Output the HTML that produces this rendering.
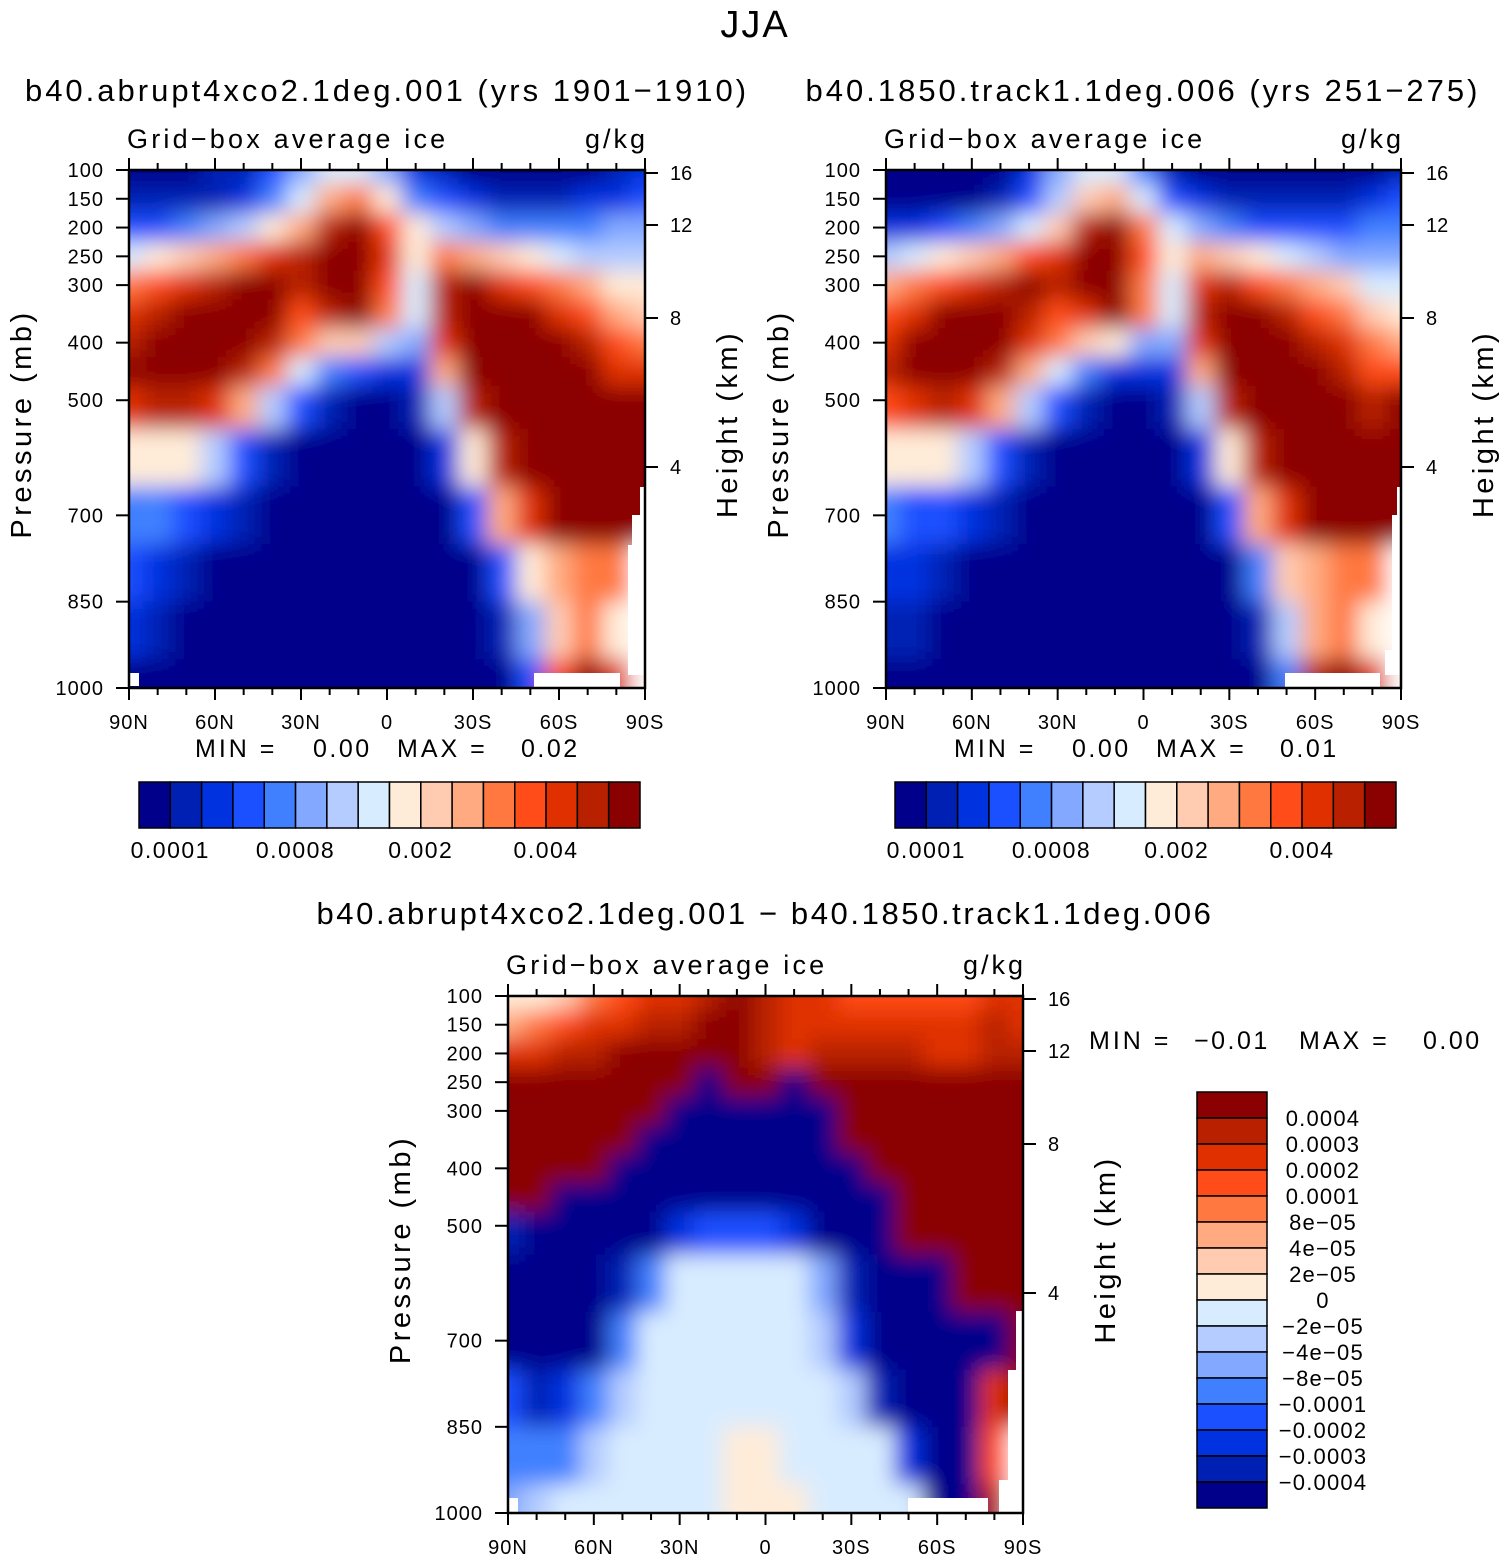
<!DOCTYPE html>
<html><head><meta charset="utf-8"><style>
html,body{margin:0;padding:0;background:#fff}
svg{display:block;font-family:"Liberation Sans",sans-serif}
</style></head><body>
<svg id="fig" width="1504" height="1561" viewBox="0 0 1504 1561" xmlns="http://www.w3.org/2000/svg">
<defs>
<filter id="smooth" x="-5%" y="-5%" width="110%" height="110%"><feGaussianBlur stdDeviation="11" edgeMode="duplicate"/></filter>
<clipPath id="clip1"><rect x="129" y="170" width="516" height="518"/></clipPath>
<clipPath id="clip2"><rect x="886" y="170" width="515" height="518"/></clipPath>
<clipPath id="clip3"><rect x="508" y="996" width="515" height="517"/></clipPath>
</defs>
<text x="755" y="37" font-size="38" text-anchor="middle" letter-spacing="2">JJA</text>
</svg>
<script>
const lats=[90,80,70,60,50,40,30,20,10,0,-10,-20,-30,-40,-50,-60,-70,-80,-90];
const pressures=[100,150,200,250,300,350,400,450,500,600,700,800,900,1000];
const pressureTicks=[100,150,200,250,300,400,500,700,850,1000];
const heightTicks=[16,12,8,4];
const heightTickOffsets=[3,55,148,297];
const latTickLabels=["90N","60N","30N","0","30S","60S","90S"];
const colors=["#00008b","#0020b4","#0032e0","#1a50ff","#4080ff","#82a8ff","#b4ccff","#d8ecff","#ffecd8","#ffccb2","#ffaa80","#ff7840","#ff4c18","#e03000","#b82000","#8b0000"];
const absLabels=["0.0001","0.0008","0.002","0.004"];
const absLabelIdx=[1,5,9,13];
const diffLabels=["0.0004","0.0003","0.0002","0.0001","8e−05","4e−05","2e−05","0","−2e−05","−4e−05","−8e−05","−0.0001","−0.0002","−0.0003","−0.0004"];
// contour level index (0..15), -1 = missing
const panel1Levels=[
[0,0,0,1,1,3,5,7,7,5,2,1,0,0,0,0,0,1,2],
[1,1,1,1,2,4,7,10,11,8,4,3,2,1,1,1,2,2,3],
[3,3,4,5,6,8,10,14,15,12,8,6,5,4,4,4,4,5,5],
[7,8,9,10,11,13,14,15,15,13,8,11,10,9,8,7,6,6,6],
[11,12,13,14,15,15,14,15,15,12,7,14,15,13,12,11,10,8,8],
[13,14,15,15,15,15,12,14,15,11,7,14,15,15,15,13,12,10,9],
[14,15,15,15,15,14,11,9,9,6,5,13,15,15,15,15,14,12,11],
[15,15,15,15,14,11,7,4,3,2,2,10,15,15,15,15,15,13,13],
[13,14,14,13,10,6,3,1,0,0,1,6,14,15,15,15,15,15,15],
[8,8,8,6,3,1,0,0,0,0,0,2,8,14,15,15,15,15,15],
[4,4,3,2,1,0,0,0,0,0,0,0,3,10,13,15,15,15,15],
[3,2,1,0,0,0,0,0,0,0,0,0,0,3,8,10,11,11,-1],
[2,1,0,0,0,0,0,0,0,0,0,0,0,1,5,9,11,8,-1],
[0,0,0,0,0,0,0,0,0,0,0,0,0,0,3,12,15,13,-1]];
const panel2Levels=[
[0,0,0,0,0,2,5,7,7,4,1,0,0,0,0,0,0,0,1],
[0,0,0,0,1,3,6,9,10,7,3,2,1,1,1,1,1,2,3],
[2,2,3,4,5,7,9,14,15,11,7,5,4,3,3,3,3,4,4],
[6,7,8,9,10,12,13,15,15,12,8,10,9,8,7,6,5,5,5],
[10,11,12,13,14,15,14,15,15,11,7,13,14,12,11,10,9,7,7],
[12,13,15,15,15,14,12,13,15,11,7,14,15,15,14,12,11,9,8],
[13,15,15,15,15,13,11,9,8,5,5,13,15,15,15,14,13,11,10],
[14,15,15,15,14,10,7,4,2,2,2,10,15,15,15,15,14,12,12],
[12,13,14,13,10,6,3,1,0,0,1,6,14,15,15,15,15,14,15],
[8,8,8,6,3,1,0,0,0,0,0,2,8,14,15,15,15,15,15],
[4,3,3,2,1,0,0,0,0,0,0,0,3,10,13,15,15,15,15],
[2,2,1,0,0,0,0,0,0,0,0,0,0,4,9,10,11,11,-1],
[1,1,0,0,0,0,0,0,0,0,0,0,0,1,6,10,11,8,-1],
[0,0,0,0,0,0,0,0,0,0,0,0,0,0,4,14,15,13,-1]];
const diffLevels=[
[8,8,9,11,12,13,13,14,15,14,13,13,12,12,12,12,12,13,13],
[10,11,12,13,13,14,14,15,15,14,13,13,13,13,13,13,13,14,13],
[13,13,14,14,15,15,15,15,15,14,13,14,14,14,14,13,13,14,14],
[15,15,15,15,15,15,15,0,15,15,0,15,15,15,15,15,15,15,15],
[15,15,15,15,15,15,0,0,0,0,0,0,15,15,15,15,15,15,15],
[15,15,15,15,15,0,0,0,0,0,0,0,15,15,15,15,15,15,15],
[15,15,15,15,0,0,0,0,0,0,0,0,0,15,15,15,15,15,15],
[15,15,0,0,0,0,0,0,0,0,0,0,0,0,15,15,15,15,15],
[1,0,0,0,0,0,2,3,3,3,2,0,0,0,15,15,15,15,15],
[0,0,0,0,1,4,7,7,7,7,7,5,1,0,0,0,15,15,15],
[0,0,0,0,4,7,7,7,7,7,7,6,2,0,0,0,0,0,15],
[3,1,2,4,6,7,7,7,7,7,7,7,6,1,0,0,0,13,15],
[4,4,4,6,7,7,7,7,8,8,7,7,7,7,2,0,0,12,-1],
[5,6,7,7,7,7,7,7,8,8,8,7,7,7,7,0,0,14,-1]];

const NS="http://www.w3.org/2000/svg";
const svg=document.getElementById('fig');
function mk(tag,attrs,parent,text){const e=document.createElementNS(NS,tag);for(const k in attrs)e.setAttribute(k,attrs[k]);if(text!==undefined)e.textContent=text;(parent||svg).appendChild(e);return e;}

function panel(P){
  const {x0,y0,w,h,levels,clip,id}=P;
  const xs=lat=>x0+(90-lat)/180*w;
  const ys=p=>y0+(p-100)/900*h;
  const grp=mk('g',{'clip-path':'url(#'+clip+')'});
  
  
  const fg=mk('g',{filter:'url(#smooth)'},grp);
  for(let j=0;j<pressures.length;j++){
    const pt=j===0?pressures[0]-60:(pressures[j-1]+pressures[j])/2;
    const pb=j===pressures.length-1?pressures[j]+60:(pressures[j]+pressures[j+1])/2;
    for(let i=0;i<lats.length;i++){
      const v=levels[j][i];
      const la=i===0?lats[i]+25:lats[i]+5, lb=i===lats.length-1?lats[i]-25:lats[i]-5;
      const c=mk('rect',{x:xs(la),y:ys(pt),width:xs(lb)-xs(la)+0.5,height:ys(pb)-ys(pt)+0.5,fill:v<0?'#ffffff':colors[Math.max(0,Math.min(15,v))]},fg);
      
      
    }
  }
  (P.masks||[]).forEach(m=>{const r=mk('rect',{x:m[0],y:m[1],width:m[2],height:m[3],fill:'#fff'},grp);
    
    });
  const fr=mk('rect',{x:x0,y:y0,width:w,height:h,fill:'none',stroke:'#000','stroke-width':2.5});
  
  
  for(let lat=90;lat>=-90;lat-=10){
    const x=xs(lat), major=lat%30===0;
    const L=major?12:7;
    mk('line',{x1:x,x2:x,y1:y0+h,y2:y0+h+L,stroke:'#000','stroke-width':2});
    mk('line',{x1:x,x2:x,y1:y0,y2:y0-L,stroke:'#000','stroke-width':2});
  }
  latTickLabels.forEach((t,k)=>{
    const e=mk('text',{x:xs(90-30*k),y:y0+h+41,'font-size':20,'text-anchor':'middle','letter-spacing':1},svg,t);
    
    
  });
  pressureTicks.forEach(p=>{
    const y=ys(p);
    mk('line',{x1:x0-13,x2:x0,y1:y,y2:y,stroke:'#000','stroke-width':2});
    const e=mk('text',{x:x0-25,y:y+7,'font-size':20,'text-anchor':'end','letter-spacing':1},svg,p);
    
    
  });
  heightTicks.forEach((hv,k)=>{
    const y=y0+heightTickOffsets[k];
    mk('line',{x1:x0+w,x2:x0+w+13,y1:y,y2:y,stroke:'#000','stroke-width':2});
    const e=mk('text',{x:x0+w+25,y:y+7,'font-size':20},svg,hv);
    
    
  });
  let e=mk('text',{x:x0-2,y:y0-22,'font-size':27,'letter-spacing':3.2},svg,'Grid−box average ice');
  
  
  e=mk('text',{x:x0+w+3,y:y0-22,'font-size':27,'text-anchor':'end','letter-spacing':3},svg,'g/kg');
  
  
  e=mk('text',{transform:`translate(${x0-98},${y0+h/2-5}) rotate(-90)`,'font-size':29,'text-anchor':'middle','letter-spacing':3.5},svg,'Pressure (mb)');
  
  
  e=mk('text',{transform:`translate(${x0+w+92},${y0+h/2-5}) rotate(-90)`,'font-size':29,'text-anchor':'middle','letter-spacing':3.5},svg,'Height (km)');
  
  
}

panel({x0:129,y0:170,w:516,h:518,levels:panel1Levels,clip:'clip1',id:'panel1',
  masks:[[534,673,86,16],[129,673,10,13],[640,487,6,40],[632,515,14,40],[628,545,18,130]]});
panel({x0:886,y0:170,w:515,h:518,levels:panel2Levels,clip:'clip2',id:'panel2',
  masks:[[1285,673,95,16],[1397,487,5,40],[1392,515,10,150],[1385,650,17,25]]});
panel({x0:508,y0:996,w:515,h:517,levels:diffLevels,clip:'clip3',id:'panel3',
  masks:[[908,1498,80,16],[508,1498,10,16],[1016,1311,8,60],[1008,1370,16,144],[999,1480,25,35]]});

function T(x,y,s,t,name,anchor,ls){const e=mk('text',{x:x,y:y,'font-size':s,'text-anchor':anchor||'start','letter-spacing':ls||0},svg,t);
  
  return e;}
T(387,101,31,'b40.abrupt4xco2.1deg.001 (yrs 1901−1910)','panel1-title','middle',3);
T(1143,101,31,'b40.1850.track1.1deg.006 (yrs 251−275)','panel2-title','middle',3);
T(765,924,31,'b40.abrupt4xco2.1deg.001 − b40.1850.track1.1deg.006','panel3-title','middle',2.6);
T(195,757,25,'MIN =','panel1-min-label','start',3);
T(313,757,25,'0.00','panel1-min-value','start',2.5);
T(397,757,25,'MAX =','panel1-max-label','start',3);
T(521,757,25,'0.02','panel1-max-value','start',2.5);
T(954,757,25,'MIN =','panel2-min-label','start',3);
T(1072,757,25,'0.00','panel2-min-value','start',2.5);
T(1156,757,25,'MAX =','panel2-max-label','start',3);
T(1280,757,25,'0.01','panel2-max-value','start',2.5);
T(1089,1049,25,'MIN =','panel3-min-label','start',3);
T(1194,1049,25,'−0.01','panel3-min-value','start',2.5);
T(1299,1049,25,'MAX =','panel3-max-label','start',3);
T(1423,1049,25,'0.00','panel3-max-value','start',2.5);

function hbar(x0,y0,w,h,id){
  const cw=w/16;
  colors.forEach((c,k)=>{const r=mk('rect',{x:x0+k*cw,y:y0,width:cw,height:h,fill:c,stroke:'#000','stroke-width':1.5});
    
    });
  absLabels.forEach((t,k)=>T(x0+absLabelIdx[k]*cw,y0+76,23,t,id+'-label','middle',1.5));
}
hbar(139,782,501,46,'colorbar1');
hbar(895,782,501,46,'colorbar2');
(function(){
  const x0=1197,y0=1092,w=70,h=416,ch=h/16;
  for(let k=0;k<16;k++){const r=mk('rect',{x:x0,y:y0+k*ch,width:w,height:ch,fill:colors[15-k],stroke:'#000','stroke-width':1.5});
    
    }
  diffLabels.forEach((t,k)=>T(1323,y0+(k+1)*ch+8,22,t,'diff-legend-label','middle',1.2));
})();
</script>
</body></html>
